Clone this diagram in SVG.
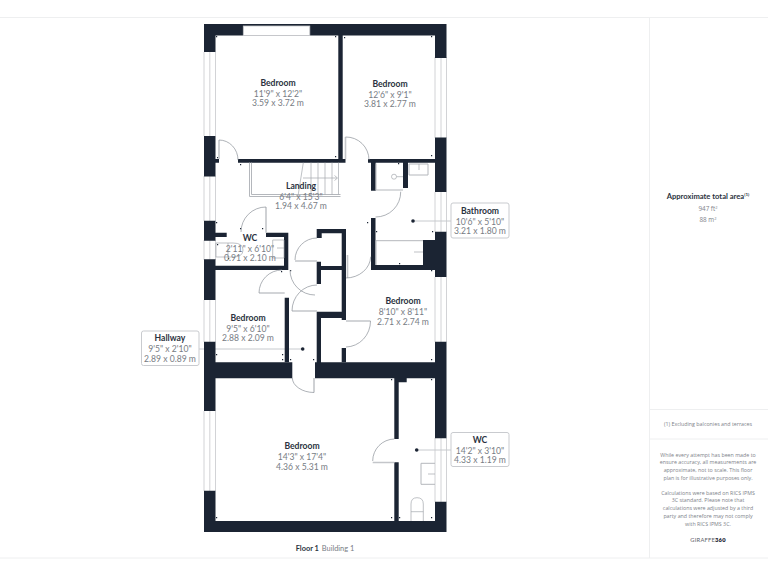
<svg xmlns="http://www.w3.org/2000/svg" width="768" height="576" viewBox="0 0 768 576">
<style>
.wall{fill:#1b2433}
.fix{fill:none;stroke:#b4b7bc;stroke-width:1}
.leaf{fill:none;stroke:#c4c6ca;stroke-width:1.6}
.arc{fill:none;stroke:#8b9098;stroke-width:.7}
.win{fill:none;stroke:#c6c8cb;stroke-width:.8}
.thin{fill:none;stroke:#a4a8ad;stroke-width:.7}
.lead{fill:none;stroke:#b9bcc1;stroke-width:.8}
.dot{fill:#1b2433}
.box{fill:#fff;stroke:#c9cbcf;stroke-width:1}
text{font-family:"Lato","Open Sans","Liberation Sans",sans-serif;text-anchor:middle}
.n{font-size:8.6px;font-weight:700;fill:#2a3240}
.d{font-size:8.6px;fill:#777c84}
.p{font-family:"Open Sans","Liberation Sans",sans-serif;font-size:5.3px;fill:#7d8289}
.rule{stroke:#eeeff0;stroke-width:1;fill:none}
</style>
<g id="panel">
<path class="rule" d="M0 17.5H768M0 558H768M649.5 18V558M649.5 409.500H768M649.500 439H768"/>
<text x="708" y="198.500" style="font-size:7.600px;font-weight:700;fill:#2a3240">Approximate total area<tspan font-size="4.500" dy="-2.500">(1)</tspan></text>
<text class="p" x="708" y="211" style="font-size:6.300px">947 ft<tspan font-size="4" dy="-2">2</tspan></text>
<text class="p" x="708" y="222" style="font-size:6.300px">88 m<tspan font-size="4" dy="-2">2</tspan></text>
<text class="p" x="708" y="426">(1) Excluding balconies and terraces</text>
<text class="p" x="708" y="456.500">While every attempt has been made to</text>
<text class="p" x="708" y="464">ensure accuracy, all measurements are</text>
<text class="p" x="708" y="472">approximate, not to scale. This floor</text>
<text class="p" x="708" y="480">plan is for illustrative purposes only.</text>
<text class="p" x="708" y="494.500">Calculations were based on RICS IPMS</text>
<text class="p" x="708" y="502">3C standard. Please note that</text>
<text class="p" x="708" y="510">calculations were adjusted by a third</text>
<text class="p" x="708" y="518">party and therefore may not comply</text>
<text class="p" x="708" y="525.500">with RICS IPMS 3C.</text>
<text x="708" y="541.500" style="font-size:5.800px;fill:#5d626a;letter-spacing:.2px">GIRAFFE<tspan font-weight="800" fill="#1b2433">360</tspan></text>
</g>
<g id="connectors">
<path class="lead" d="M413 221H451M302.700 349H199M416.700 450H451"/>
<circle class="dot" cx="413" cy="221" r="1.800"/>
<circle class="dot" cx="302.700" cy="349" r="1.800"/>
<circle class="dot" cx="416.700" cy="450" r="1.800"/>
</g>
<g id="plan">
<path class="win" d="M204 52V136M209.800 52V136M215.500 52V136M204 176V221M209.800 176V221M215.500 176V221M204 240V260M209.800 240V260M215.500 240V260M204 300V342M209.800 300V342M215.500 300V342M204 411V491M209.800 411V491M215.500 411V491M435 57V138M441 57V138M446.500 57V138M435 192V232M441 192V232M446.500 192V232M435 277V342M441 277V342M446.500 277V342M435 438V502M441 438V502M446.500 438V502"/>
<path class="wall" d="M204 24H446.500V58H435V35.500H342.700V159H345.500V162.700H238V159H338.300V35.500H215.500V52H204Z"/>
<rect x="243.300" y="26" width="66.500" height="9.500" fill="#fff" stroke="#c6c8cb" stroke-width=".8"/>
<path class="wall" d="M204 136H215.500V159H219V162.700H215.500V176.500H204ZM435 137.500H446.500V192H435ZM368 159H435V162.700H408V188H403V162.700H375.700V190.700H371V162.700H368Z"/>
<path class="wall" d="M204 220.700H215.500V232.700H226.700V237H215.500V240.700H204ZM266 232.700H288.300V270H204V259.300H215.500V265.700H284V237H266ZM204 259.300H215.500V300H204Z"/>
<path class="wall" d="M316.700 229H346V320H341.700V318H321V378H316.700V311.700H341.700V270H321V284H316.700V261.700H321V266H341.700V233.300H321.700V238H316.700Z"/>
<path class="wall" d="M371 218H375.500V265H423V240H435V231.700H446.500V277H435V270H371Z"/>
<path class="wall" d="M284.700 297.700H289V362.300H284.700ZM341.700 348H346V362.300H341.700Z"/>
<path class="wall" d="M204 341.700H215.500V362.300H292.300V378.300H215.500V411H204ZM315 362.300H435V341.700H446.500V438.300H435V378.300H406.700V382.300H398.700V439H394.300V378.300H315ZM204 490.700H215.500V521H394.300V462.300H398.700V521H435V501.700H446.500V532H204Z"/>
<path class="wall" d="M216 36h1.200v1.200h-1.200zM217 157h1.200v1.200h-1.200zM335 36h1.200v1.200h-1.200zM335 156h1.200v1.200h-1.200zM344 37h1.200v1.200h-1.200zM431 36h1.200v1.200h-1.200zM431 155h1.200v1.200h-1.200zM240 164h1.200v1.200h-1.200zM374 164h1.200v1.200h-1.200zM398 163h1.200v1.200h-1.200zM216 222h1.200v1.200h-1.200zM240 228h1.200v1.200h-1.200zM262 228h1.200v1.200h-1.200zM217 244h1.200v1.200h-1.200zM228 258h1.200v1.200h-1.200zM281 271h1.200v1.200h-1.200zM290 270h1.200v1.200h-1.200zM367 222h1.200v1.200h-1.200zM376 231h1.200v1.200h-1.200zM432 231h1.200v1.200h-1.200zM399 263h1.200v1.200h-1.200zM431 270h1.200v1.200h-1.200zM216 354h1.200v1.200h-1.200zM282 354h1.200v1.200h-1.200zM282 359h1.200v1.200h-1.200zM290 359h1.200v1.200h-1.200zM313 359h1.200v1.200h-1.200zM431 359h1.200v1.200h-1.200zM391 379h1.200v1.200h-1.200zM431 379h1.200v1.200h-1.200zM216 517h1.200v1.200h-1.200zM391 517h1.200v1.200h-1.200zM399 517h1.200v1.200h-1.200zM431 517h1.200v1.200h-1.200z"/>
</g>
<g id="doors">
<path class="leaf" d="M219 140V159M345.500 137V159M266 207V232.700M295 261H317M292 311H317M346 321H370.500M372.700 462.500H394.300M314 378V392.500M347.500 255V278M259 293H284.700"/>
<path class="arc" d="M219 140A19 20 0 0 1 238 160M345.500 137A23 23 0 0 1 369 160M400.700 191.700A25 25 0 0 1 375.500 217M266 207A25 25 0 0 0 241 232M317 238A22 22 0 0 0 295 260M317 285A25 26 0 0 0 292 311M370.500 321A25 26 0 0 1 346 347M370.700 256.700A25 22 0 0 1 346 278M394.300 439A22 22 0 0 0 372.700 461M292.300 378A22 15 0 0 0 314 392.500M259 293A23 23 0 0 1 282 270M290 270A25 25 0 0 0 315 295"/>
</g>
<g id="fixtures">
<path class="fix" d="M376 163.500V190H403M249.500 162.700V196.500H340.500M251.500 162.700V194.500H340.500M376 240.700H423M376 240.700V265M409 164H428V175H409Z"/>
<path class="thin" d="M303.300 162.700L298 196M311 162.700V194.500M318 162.700V194.500M325 162.700V194.500M332 162.700V194.500M338.500 162.700V194.500M303 178H337M334.500 175.500L337.500 178L334.500 180.500M394 176.700m-2.500 0a2.500 2.500 0 1 0 5 0a2.500 2.500 0 1 0-5 0M396.500 176.700H403M419 164V170M414 252H423M272.700 240H284V258H272.700ZM277 248H284M216 243H233Q243 243 243 250Q243 257 233 257H216ZM228 243V257M411 521V504Q411 497.700 417 497.700Q423.300 497.700 423.300 504V521M411 511.700H423.300M428 474H435"/>
<path class="fix" d="M421 463.300H435M421 463.300V484.300H435"/>
</g>
<g id="room-bedroom-1"><text class="n" x="278" y="85.500">Bedroom</text><text class="d" x="278" y="96.500">11'9" x 12'2"</text><text class="d" x="278" y="105.500">3.59 x 3.72 m</text></g>
<g id="room-bedroom-2"><text class="n" x="390" y="87">Bedroom</text><text class="d" x="390" y="97.500">12'6" x 9'1"</text><text class="d" x="390" y="107">3.81 x 2.77 m</text></g>
<g id="room-landing"><text class="n" x="301" y="189">Landing</text><text class="d" x="301" y="199.500">6'4" x 15'3"</text><text class="d" x="301" y="209">1.94 x 4.67 m</text></g>
<g id="room-wc-1"><text class="n" x="250" y="241">WC</text><text class="d" x="250" y="252">2'11" x 6'10"</text><text class="d" x="250" y="261">0.91 x 2.10 m</text></g>
<g id="room-bedroom-3"><text class="n" x="248" y="321">Bedroom</text><text class="d" x="248" y="332">9'5" x 6'10"</text><text class="d" x="248" y="341">2.88 x 2.09 m</text></g>
<g id="room-bedroom-4"><text class="n" x="403" y="304">Bedroom</text><text class="d" x="403" y="315">8'10" x 8'11"</text><text class="d" x="403" y="324.500">2.71 x 2.74 m</text></g>
<g id="room-bedroom-5"><text class="n" x="302" y="449">Bedroom</text><text class="d" x="302" y="460">14'3" x 17'4"</text><text class="d" x="302" y="469.500">4.36 x 5.31 m</text></g>
<g id="room-bathroom"><rect class="box" x="451" y="203" width="58" height="35" rx="2"/><text class="n" x="480" y="213.500">Bathroom</text><text class="d" x="480" y="224.500">10'6" x 5'10"</text><text class="d" x="480" y="234">3.21 x 1.80 m</text></g>
<g id="room-hallway"><rect class="box" x="141.500" y="331" width="57.500" height="34.500" rx="2"/><text class="n" x="170" y="341">Hallway</text><text class="d" x="170" y="352">9'5" x 2'10"</text><text class="d" x="170" y="361.500">2.89 x 0.89 m</text></g>
<g id="room-wc-2"><rect class="box" x="451" y="432.500" width="58" height="34" rx="2"/><text class="n" x="480" y="442.500">WC</text><text class="d" x="480" y="453.500">14'2" x 3'10"</text><text class="d" x="480" y="462.500">4.33 x 1.19 m</text></g>
<g id="caption"><text x="325" y="551" style="font-size:7.400px"><tspan font-weight="700" fill="#2a3240">Floor 1</tspan><tspan fill="#777c84" dx="3">Building 1</tspan></text></g>
</svg>
